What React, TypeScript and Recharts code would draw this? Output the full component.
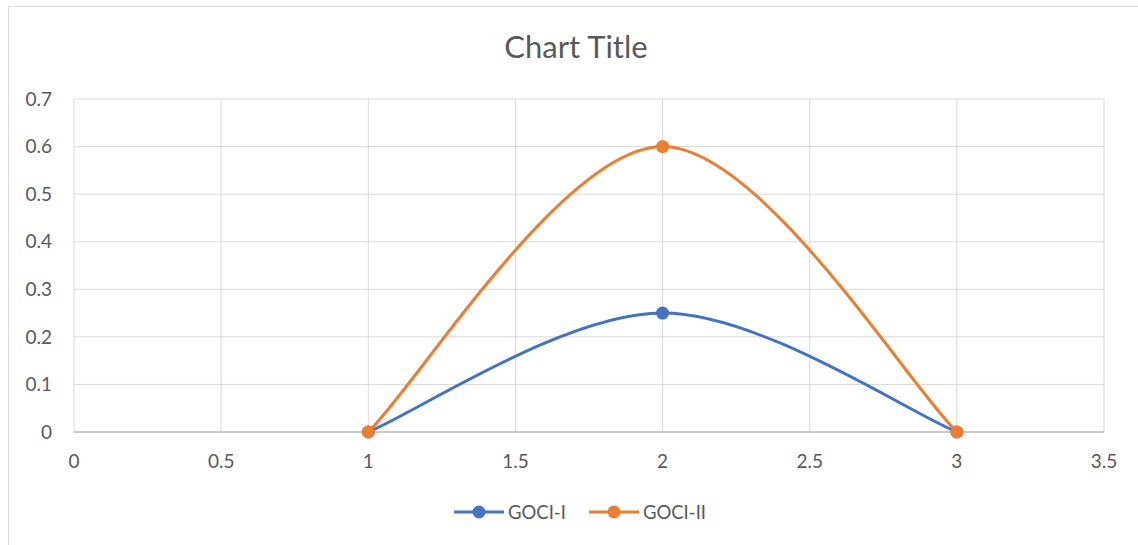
import { LineChart, Line, XAxis, YAxis, CartesianGrid, Legend } from 'recharts';

const xValues = [1, 2, 3];
const gociI = [0, 0.25, 0];
const gociII = [0, 0.6, 0];
const xTicks = [0, 0.5, 1, 1.5, 2, 2.5, 3, 3.5];
const yTicks = [0, 0.1, 0.2, 0.3, 0.4, 0.5, 0.6, 0.7];

const series = [
  { key: 'gociI', name: 'GOCI-I', color: '#4472C4' },
  { key: 'gociII', name: 'GOCI-II', color: '#ED7D31' },
];

const data = xValues.map((x, i) => ({ x, gociI: gociI[i], gociII: gociII[i] }));

const FONT = 'Lato, "Open Sans", sans-serif';
const TEXT = '#595959';

// Excel-like smoothed line (Catmull-Rom through the points, ends doubled)
const excelSmooth = (context: any) => {
  let pts: number[][] = [];
  return {
    areaStart() {},
    areaEnd() {},
    lineStart() {
      pts = [];
    },
    point(x: number, y: number) {
      pts.push([+x, +y]);
    },
    lineEnd() {
      const n = pts.length;
      if (!n) return;
      context.moveTo(pts[0][0], pts[0][1]);
      for (let i = 0; i < n - 1; i++) {
        const p0 = pts[Math.max(i - 1, 0)];
        const p1 = pts[i];
        const p2 = pts[i + 1];
        const p3 = pts[Math.min(i + 2, n - 1)];
        context.bezierCurveTo(
          p1[0] + (p2[0] - p0[0]) / 6,
          p1[1] + (p2[1] - p0[1]) / 6,
          p2[0] - (p3[0] - p1[0]) / 6,
          p2[1] - (p3[1] - p1[1]) / 6,
          p2[0],
          p2[1]
        );
      }
    },
  };
};

const LegendContent = () => (
  <div
    style={{
      height: 30,
      display: 'flex',
      justifyContent: 'center',
      alignItems: 'center',
      paddingLeft: 22,
      gap: 23,
      fontFamily: FONT,
      fontSize: 18.5,
      color: TEXT,
    }}
  >
    {series.map((s) => (
      <div key={s.key} style={{ display: 'flex', alignItems: 'center', gap: 4 }}>
        <svg width={50} height={14}>
          <line x1={0} y1={7} x2={50} y2={7} stroke={s.color} strokeWidth={3} />
          <circle cx={25} cy={7} r={6.5} fill={s.color} />
        </svg>
        <span>{s.name}</span>
      </div>
    ))}
  </div>
);

export default function App() {
  return (
    <div style={{ position: 'absolute', left: 0, top: 0, width: 1138, height: 545, background: '#fff', overflow: 'hidden' }}>
      <div
        style={{
          position: 'absolute',
          left: 8,
          top: 6,
          width: 1200,
          height: 600,
          borderLeft: '1px solid #d9d9d9',
          borderTop: '1px solid #d9d9d9',
        }}
      />
      <div
        style={{
          position: 'absolute',
          left: 0,
          top: 29,
          width: 1152,
          textAlign: 'center',
          fontFamily: FONT,
          fontSize: 31,
          lineHeight: '34px',
          color: TEXT,
        }}
      >
        Chart Title
      </div>
      <div style={{ position: 'absolute', left: 0, top: 0 }}>
        <LineChart width={1138} height={545} data={data} margin={{ top: 99, right: 34, bottom: 18, left: 0 }}>
          <CartesianGrid stroke="#d9d9d9" strokeWidth={1} />
          <XAxis
            dataKey="x"
            type="number"
            domain={[0, 3.5]}
            ticks={xTicks}
            height={65}
            tickLine={false}
            tickSize={0}
            tickMargin={23}
            axisLine={{ stroke: '#bfbfbf', strokeWidth: 1.5 }}
            tick={{ fill: TEXT, fontSize: 19, fontFamily: FONT }}
          />
          <YAxis
            type="number"
            domain={[0, 0.7]}
            ticks={yTicks}
            width={74}
            tickLine={false}
            tickSize={0}
            tickMargin={22}
            axisLine={false}
            tick={{ fill: TEXT, fontSize: 19, fontFamily: FONT }}
          />
          <Legend
            verticalAlign="bottom"
            wrapperStyle={{ left: 0, width: 1138, bottom: 18 }}
            content={() => <LegendContent />}
          />
          {series.map((s) => (
            <Line
              key={s.key}
              dataKey={s.key}
              name={s.name}
              type={excelSmooth as any}
              stroke={s.color}
              strokeWidth={3}
              dot={{ r: 6.5, fill: s.color, stroke: s.color, strokeWidth: 0 }}
              activeDot={false}
              isAnimationActive={false}
            />
          ))}
        </LineChart>
      </div>
    </div>
  );
}
